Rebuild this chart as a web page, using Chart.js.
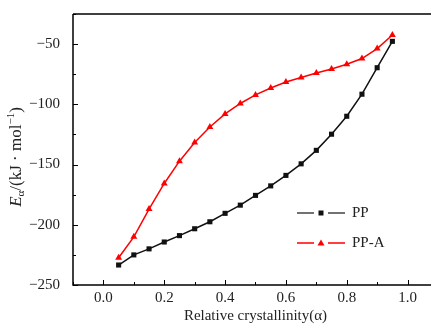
<!DOCTYPE html>
<html lang="en">
<head>
  <meta charset="UTF-8" />
  <title>Ea vs relative crystallinity</title>
  <script src="https://cdn.jsdelivr.net/npm/chart.js"></script>
  <style>
    html, body { margin: 0; padding: 0; background: #fff; overflow: hidden; }
    #wrap { position: relative; width: 445px; height: 324px; }
  </style>
</head>
<body>
<div id="wrap"><canvas id="eaChart"></canvas></div>

<script>
  // data
  const alphaValues = [0.05, 0.10, 0.15, 0.20, 0.25, 0.30, 0.35, 0.40, 0.45, 0.50,
                       0.55, 0.60, 0.65, 0.70, 0.75, 0.80, 0.85, 0.90, 0.95];
  const ppValues = [-233.4, -225, -220, -214.3, -209, -203.3, -197.5, -190.5, -183.7, -175.6,
                    -167.7, -159, -149.4, -138.2, -124.8, -109.9, -91.6, -69.6, -47.7];
  const ppaValues = [-227.4, -210, -187, -165.7, -147.2, -131.7, -118.8, -108, -99.3, -92.2,
                     -86.4, -81.4, -77.8, -74, -70.6, -66.7, -62, -53.7, -42.4];
  const xTicks = [0.0, 0.2, 0.4, 0.6, 0.8, 1.0];
  const yTicks = [-250, -200, -150, -100, -50];
  const seriesNames = ["PP", "PP-A"];

  const serif = "'Liberation Serif', 'DejaVu Serif', serif";

  function toPoints(ys) {
    return alphaValues.map((x, i) => ({ x: x, y: ys[i] }));
  }

  // frame, inward ticks, y title and legend drawn by hand
  const decorPlugin = {
    id: 'decor',
    afterDraw(chart) {
      const ctx = chart.ctx;
      const a = chart.chartArea;
      const xs = chart.scales.x, ys = chart.scales.y;
      ctx.save();
      ctx.strokeStyle = '#000';
      ctx.lineWidth = 1.5;
      ctx.beginPath();
      ctx.moveTo(a.left, a.top); ctx.lineTo(a.right, a.top);
      ctx.moveTo(a.left, a.top); ctx.lineTo(a.left, a.bottom);
      ctx.lineTo(a.right, a.bottom);
      ctx.stroke();

      ctx.lineWidth = 1;
      ctx.beginPath();
      for (let v = -250; v <= -25; v += 25) {
        const p = Math.round(ys.getPixelForValue(v)) + 0.5;
        const len = (v % 50 === 0) ? 5 : 3;
        ctx.moveTo(a.left, p); ctx.lineTo(a.left + len, p);
      }
      for (let k = -1; k <= 11; k++) {
        const v = k / 10;
        const p = Math.round(xs.getPixelForValue(v)) + 0.5;
        if (p <= a.left || p >= a.right) continue;
        const len = (k % 2 === 0) ? 5 : 3;
        ctx.moveTo(p, a.bottom); ctx.lineTo(p, a.bottom - len);
      }
      ctx.stroke();

      // y axis title: E_α/(kJ · mol⁻¹)
      ctx.translate(17, 157);
      ctx.rotate(-Math.PI / 2);
      ctx.fillStyle = '#222';
      ctx.textBaseline = 'middle';
      const parts = [
        { t: 'E', f: 'italic 17px ' + serif, dy: 0 },
        { t: 'α', f: '11px ' + serif, dy: 4 },
        { t: '/(kJ · mol', f: '17px ' + serif, dy: 0 },
        { t: '−1', f: '11px ' + serif, dy: -6 },
        { t: ')', f: '17px ' + serif, dy: 0 }
      ];
      let total = 0;
      parts.forEach(p => { ctx.font = p.f; total += ctx.measureText(p.t).width; });
      let cx = -total / 2;
      parts.forEach(p => {
        ctx.font = p.f;
        ctx.fillText(p.t, cx, p.dy);
        cx += ctx.measureText(p.t).width;
      });
      ctx.restore();

      // legend
      ctx.save();
      const rows = [213, 243];
      chart.data.datasets.forEach((ds, i) => {
        const y = rows[i];
        ctx.strokeStyle = ds.legendLine;
        ctx.lineWidth = 1.5;
        ctx.beginPath();
        ctx.moveTo(297, y); ctx.lineTo(314, y);
        ctx.moveTo(328, y); ctx.lineTo(345, y);
        ctx.stroke();
        ctx.fillStyle = ds.pointBackgroundColor;
        ctx.beginPath();
        if (ds.pointStyle === 'rect') {
          ctx.rect(318.5, y - 2.5, 5, 5);
        } else {
          ctx.moveTo(321, y - 3.5); ctx.lineTo(324.5, y + 2.5); ctx.lineTo(317.5, y + 2.5);
          ctx.closePath();
        }
        ctx.fill();
        ctx.fillStyle = '#222';
        ctx.font = '15px ' + serif;
        ctx.textBaseline = 'middle';
        ctx.fillText(ds.label, 352, y);
      });
      ctx.restore();
    }
  };

  new Chart(document.getElementById('eaChart'), {
    type: 'line',
    data: {
      datasets: [
        {
          label: seriesNames[0],
          data: toPoints(ppValues),
          borderColor: '#111',
          backgroundColor: '#111',
          pointBackgroundColor: '#111',
          pointBorderColor: '#111',
          legendLine: '#444',
          borderWidth: 1.5,
          pointStyle: 'rect',
          pointRadius: 3.6,
          pointBorderWidth: 0
        },
        {
          label: seriesNames[1],
          data: toPoints(ppaValues),
          borderColor: '#f00',
          backgroundColor: '#f00',
          pointBackgroundColor: '#f00',
          pointBorderColor: '#f00',
          legendLine: '#f00',
          borderWidth: 1.5,
          pointStyle: 'triangle',
          pointRadius: 4,
          pointBorderWidth: 0
        }
      ]
    },
    options: {
      responsive: true,
      maintainAspectRatio: false,
      animation: false,
      layout: { padding: { top: 13, right: 7, left: 0, bottom: 0 } },
      plugins: { legend: { display: false }, tooltip: { enabled: false } },
      scales: {
        x: {
          type: 'linear',
          min: -0.1,
          max: 1.1,
          afterBuildTicks: s => { s.ticks = xTicks.map(v => ({ value: v })); },
          afterFit: s => { s.height = 39; },
          grid: { display: false },
          border: { display: false },
          ticks: {
            padding: -4,
            color: '#222',
            font: { family: serif, size: 15 },
            callback: v => Number(v).toFixed(1)
          },
          title: {
            display: true,
            text: 'Relative crystallinity(α)',
            color: '#222',
            font: { family: serif, size: 15 },
            padding: { top: 0, bottom: -1 }
          }
        },
        y: {
          type: 'linear',
          min: -250,
          max: -25,
          afterBuildTicks: s => { s.ticks = yTicks.map(v => ({ value: v })); },
          afterFit: s => { s.width = 73; },
          grid: { display: false },
          border: { display: false },
          ticks: {
            padding: 5,
            color: '#222',
            font: { family: serif, size: 15 },
            callback: v => String(v).replace('-', '−')
          }
        }
      }
    },
    plugins: [decorPlugin]
  });
</script>
</body>
</html>
